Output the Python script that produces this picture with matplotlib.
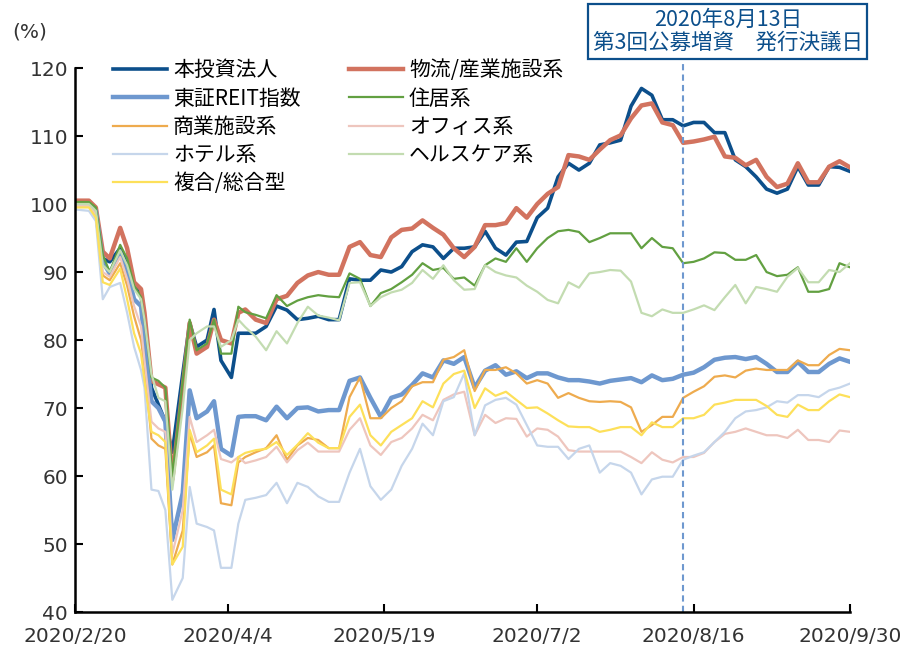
import pandas as pd
import matplotlib
matplotlib.use("Agg")
import matplotlib.pyplot as plt

plt.rcParams['font.family'] = ['Noto Sans CJK JP', 'DejaVu Sans']

# days since 2020/2/20 (calendar)
days = [0, 4, 6, 8, 10, 13, 15, 17, 19, 20, 22, 24, 26, 28, 31, 33, 35, 38, 40, 42,
        45, 47, 49, 52, 55, 58, 61, 64, 67, 70, 73, 76, 79, 82, 85, 88, 91, 94, 97, 100,
        103, 106, 109, 112, 115, 118, 121, 124, 127, 130, 133, 136, 139, 142, 145, 148, 151, 154, 157, 160,
        163, 166, 169, 172, 175, 178, 181, 184, 187, 190, 193, 196, 199, 202, 205, 208, 211, 214, 217, 220,
        223]

honto = [100.3, 100.3, 99, 92, 91.5, 93.5, 91, 88, 86.5, 83, 73, 70.5, 68, 63.5, 75, 82.5, 79, 80, 84.5, 77,
         74.5, 81, 81, 81, 82, 85, 84.4, 83, 83.2, 83.5, 83, 83, 89, 88.8, 88.8, 90.3, 90, 90.8, 93, 94,
         93.7, 92, 93.5, 93.5, 93.7, 96, 93.5, 92.5, 94.4, 94.5, 98, 99.4, 104, 106, 105, 106, 108.7, 109, 109.4, 114.4,
         117, 116, 112.4, 112.4, 111.5, 112, 112, 110.5, 110.5, 106.5, 105.5, 104, 102.2, 101.6, 102.2, 105.5, 102.8, 102.8, 105.5, 105.4,
         104.8]

butsuryu = [100.5, 100.5, 99.5, 93, 92, 96.5, 93.5, 88.5, 87.5, 84, 74, 73.5, 73, 59.5, 73, 82.5, 78, 79, 83, 80,
            79.5, 84, 84.5, 83, 82.5, 86, 86.5, 88.4, 89.5, 90, 89.6, 89.6, 93.7, 94.4, 92.5, 92.2, 95.1, 96.2, 96.4, 97.6,
            96.5, 95.5, 93.5, 92.2, 93.7, 96.9, 96.9, 97.2, 99.4, 98, 100, 101.5, 102.5, 107.2, 107, 106.5, 108, 109.4, 110.1, 112.6,
            114.5, 114.8, 112, 111.6, 109, 109.2, 109.5, 109.9, 107, 106.8, 105.7, 106.5, 104, 102.5, 103, 106, 103.2, 103.2, 105.5, 106.3,
            105.4]

reit = [100, 100, 99, 91.5, 89.8, 92.8, 90, 86, 85, 80, 71, 70, 68, 50.6, 57.5, 72.6, 68.5, 69.5, 71, 64,
        63, 68.7, 68.8, 68.8, 68.2, 70.2, 68.5, 70, 70.1, 69.5, 69.7, 69.7, 74, 74.5, 71.5, 68.7, 71.5, 72, 73.4, 75.1,
        74.5, 77, 76.5, 77.5, 73, 75.5, 76.3, 74.9, 75.4, 74.4, 75.1, 75.1, 74.5, 74.1, 74.1, 73.9, 73.6, 74, 74.2, 74.4,
        73.8, 74.8, 74.1, 74.3, 74.9, 75.2, 76, 77.1, 77.4, 77.5, 77.2, 77.5, 76.5, 75.3, 75.3, 76.8, 75.3, 75.3, 76.5, 77.3,
        76.8]

jukyo = [100.3, 100.3, 99.5, 92.5, 90, 94, 92, 88, 86.3, 83, 74.5, 74, 73, 60, 74, 83, 78.5, 79.5, 83, 78,
         78, 84.9, 84.1, 83.7, 83.2, 86.6, 85, 85.8, 86.3, 86.6, 86.4, 86.3, 89.8, 89, 85, 86.9, 87.5, 88.5, 89.6, 91.3,
         90.3, 90.6, 89, 89.2, 88, 91, 92, 91.5, 93.5, 91.5, 93.5, 95, 96, 96.2, 95.9, 94.4, 95, 95.7, 95.7, 95.7,
         93.5, 95, 93.7, 93.5, 91.3, 91.5, 92, 92.9, 92.8, 91.8, 91.8, 92.5, 90, 89.4, 89.6, 90.7, 87.1, 87.1, 87.5, 91.3,
         90.7]

shogyo = [99.7, 99.7, 98.5, 89.5, 88.8, 91.3, 88, 83.5, 80, 76, 65.5, 64.5, 64, 47, 52, 66.3, 62.8, 63.5, 64.5, 56,
          55.7, 62, 62.8, 63.5, 64.1, 66, 62.4, 64.5, 65.6, 65.3, 64.1, 64.1, 71.6, 74.5, 68.5, 68.5, 70, 71, 73.2, 73.8,
          73.8, 77.1, 77.5, 78.5, 72.5, 75.6, 75.6, 76, 75.1, 73.6, 74.1, 73.6, 71.5, 72.2, 71.5, 71, 70.9, 71, 70.9, 70.1,
          66.5, 67.5, 68.7, 68.7, 71.5, 72.4, 73.2, 74.6, 74.8, 74.5, 75.5, 75.8, 75.6, 75.6, 75.6, 77, 76.3, 76.3, 77.8, 78.7,
          78.5]

office = [99.7, 99.7, 98.5, 90, 89.3, 92.2, 89, 85, 82, 77, 68, 67, 66.5, 48.5, 55, 68.7, 65, 66, 66.8, 62.5,
          62, 62.8, 61.9, 62.3, 62.8, 64.3, 62, 63.8, 64.9, 63.6, 63.6, 63.6, 66.8, 68.5, 64.5, 63.1, 65, 65.6, 67, 69,
          68.2, 71.2, 72, 72.4, 66, 69, 67.8, 68.5, 68.4, 65.8, 67, 66.8, 65.8, 63.8, 63.6, 63.6, 63.6, 63.6, 63.6, 62.8,
          61.9, 63.5, 62.4, 62, 62.8, 62.8, 63.4, 65, 66.2, 66.5, 67, 66.5, 66, 66, 65.6, 66.8, 65.3, 65.3, 65, 66.7,
          66.5]

hotel = [99.2, 99, 97.5, 86, 87.8, 88.4, 84, 79, 75.6, 73, 58, 57.8, 55, 41.8, 45, 58.4, 53, 52.5, 52, 46.5,
         46.5, 53, 56.5, 56.8, 57.2, 59, 56, 59, 58.4, 57, 56.2, 56.2, 60.5, 64, 58.5, 56.5, 58, 61.5, 64, 67.7,
         66, 71, 71.6, 75.1, 66, 70.4, 71.2, 71.5, 70.5, 67.5, 64.5, 64.3, 64.3, 62.5, 64, 64.5, 60.5, 61.9, 61.5, 60.5,
         57.3, 59.5, 59.9, 59.9, 62.4, 63, 63.5, 65, 66.5, 68.5, 69.5, 69.7, 70.1, 71, 70.8, 71.9, 71.9, 71.6, 72.6, 73,
         73.6]

health = [100, 100, 99, 91, 90, 93.2, 91, 87.5, 86, 83, 75, 71.5, 71, 58, 70, 80, 81, 82, 82, 79,
          80, 83, 81.9, 80.5, 78.5, 81.3, 79.5, 82.5, 84.9, 83.6, 83.3, 82.9, 88.4, 88.5, 85, 86.3, 87, 87.4, 88.4, 90.3,
          89, 91, 88.8, 87.4, 87.5, 91, 90, 89.5, 89.2, 88, 87.1, 85.9, 85.4, 88.5, 87.7, 89.8, 90, 90.3, 90.2, 88.6,
          84, 83.5, 84.5, 84, 84, 84.5, 85.1, 84.4, 86.3, 88.1, 85.4, 87.8, 87.5, 87.1, 89.3, 90.6, 88.5, 88.5, 90.3, 90,
          91.3]

fukugo = [99.5, 99.5, 98, 88.5, 88.1, 90.5, 86, 81, 78, 74, 66.5, 66, 65, 47, 49.6, 66.8, 63.5, 64.5, 65.5, 58,
          57.3, 62.8, 63.4, 63.8, 64, 65, 63.1, 64.6, 66.3, 64.9, 64.1, 64.1, 68.7, 70.5, 66, 64.5, 66.5, 67.5, 68.5, 71,
          70.1, 73.6, 75, 75.5, 70, 72.9, 71.8, 72.4, 71.2, 70, 70.1, 69.2, 68.2, 67.3, 67.2, 67.2, 66.5, 66.8, 67.2, 67.2,
          66, 67.9, 67.2, 67.2, 68.5, 68.5, 69, 70.5, 70.8, 71.2, 71.2, 71.2, 70.3, 69, 68.7, 70.5, 69.7, 69.7, 71, 72,
          71.6]

tick_dates = ['2020-02-20', '2020-04-04', '2020-05-19', '2020-07-02', '2020-08-16', '2020-09-30']
tick_labels = ['2020/2/20', '2020/4/4', '2020/5/19', '2020/7/2', '2020/8/16', '2020/9/30']
event_date = '2020-08-13'
event_text = '2020年8月13日\n第3回公募増資　発行決議日'

dates = pd.Timestamp('2020-02-20') + pd.to_timedelta(days, unit='D')

fig = plt.figure(figsize=(9.08, 6.55), dpi=100)
ax = fig.add_axes([0.0826, 0.0656, 0.8535, 0.8305])

l_honto, = ax.plot(dates, honto, color='#0c4f8b', lw=2.6, label='本投資法人')
l_butsu, = ax.plot(dates, butsuryu, color='#d2735f', lw=3.2, label='物流/産業施設系')
l_reit, = ax.plot(dates, reit, color='#6e98cf', lw=3.2, label='東証REIT指数')
l_juk, = ax.plot(dates, jukyo, color='#62a041', lw=1.6, label='住居系')
l_sho, = ax.plot(dates, shogyo, color='#eeab4e', lw=1.6, label='商業施設系')
l_off, = ax.plot(dates, office, color='#eec6be', lw=1.6, label='オフィス系')
l_hot, = ax.plot(dates, hotel, color='#c6d6eb', lw=1.6, label='ホテル系')
l_hea, = ax.plot(dates, health, color='#c3dcb1', lw=1.6, label='ヘルスケア系')
l_fuk, = ax.plot(dates, fukugo, color='#fde05a', lw=1.6, label='複合/総合型')

ev = pd.Timestamp(event_date)
ax.plot([ev, ev], [40, 120.8], color='#6e98cf', lw=1.5, ls=(0, (3, 2)), clip_on=False)

ax.set_xlim(pd.Timestamp(tick_dates[0]), pd.Timestamp(tick_dates[-1]))
ax.set_ylim(40, 120)
ax.set_xticks([pd.Timestamp(d) for d in tick_dates])
ax.set_xticklabels(tick_labels)
ax.set_yticks(range(40, 121, 10))
ax.spines['top'].set_visible(False)
ax.spines['right'].set_visible(False)
for s in ['left', 'bottom']:
    ax.spines[s].set_linewidth(1.8)
ax.tick_params(axis='both', direction='in', length=6, width=1.5, labelsize=14.5)
ax.tick_params(axis='x', pad=11)
ax.tick_params(axis='y', pad=5)
for t in ax.get_xticklabels() + ax.get_yticklabels():
    t.set_color('#333333')
    t.set_family('DejaVu Sans')

fig.text(0.013, 0.951, '(%)', fontsize=14.5, color='#333333', va='center', family='DejaVu Sans')

handles = [l_honto, l_reit, l_sho, l_hot, l_fuk, l_butsu, l_juk, l_off, l_hea]
ax.legend(handles=handles, ncol=2, loc='upper left', bbox_to_anchor=(0.035, 1.035),
          frameon=False, fontsize=15, handlelength=2.6, handletextpad=0.3,
          columnspacing=2.3, labelspacing=0.3, borderpad=0)

fig.text(0.8015, 0.952, event_text, fontsize=15.5, color='#0c4f8b', ha='center', va='center',
         linespacing=1.05,
         bbox=dict(boxstyle='square,pad=0.22', fc='white', ec='#0c4f8b', lw=1.6))

fig.savefig('out.png', dpi=100)
